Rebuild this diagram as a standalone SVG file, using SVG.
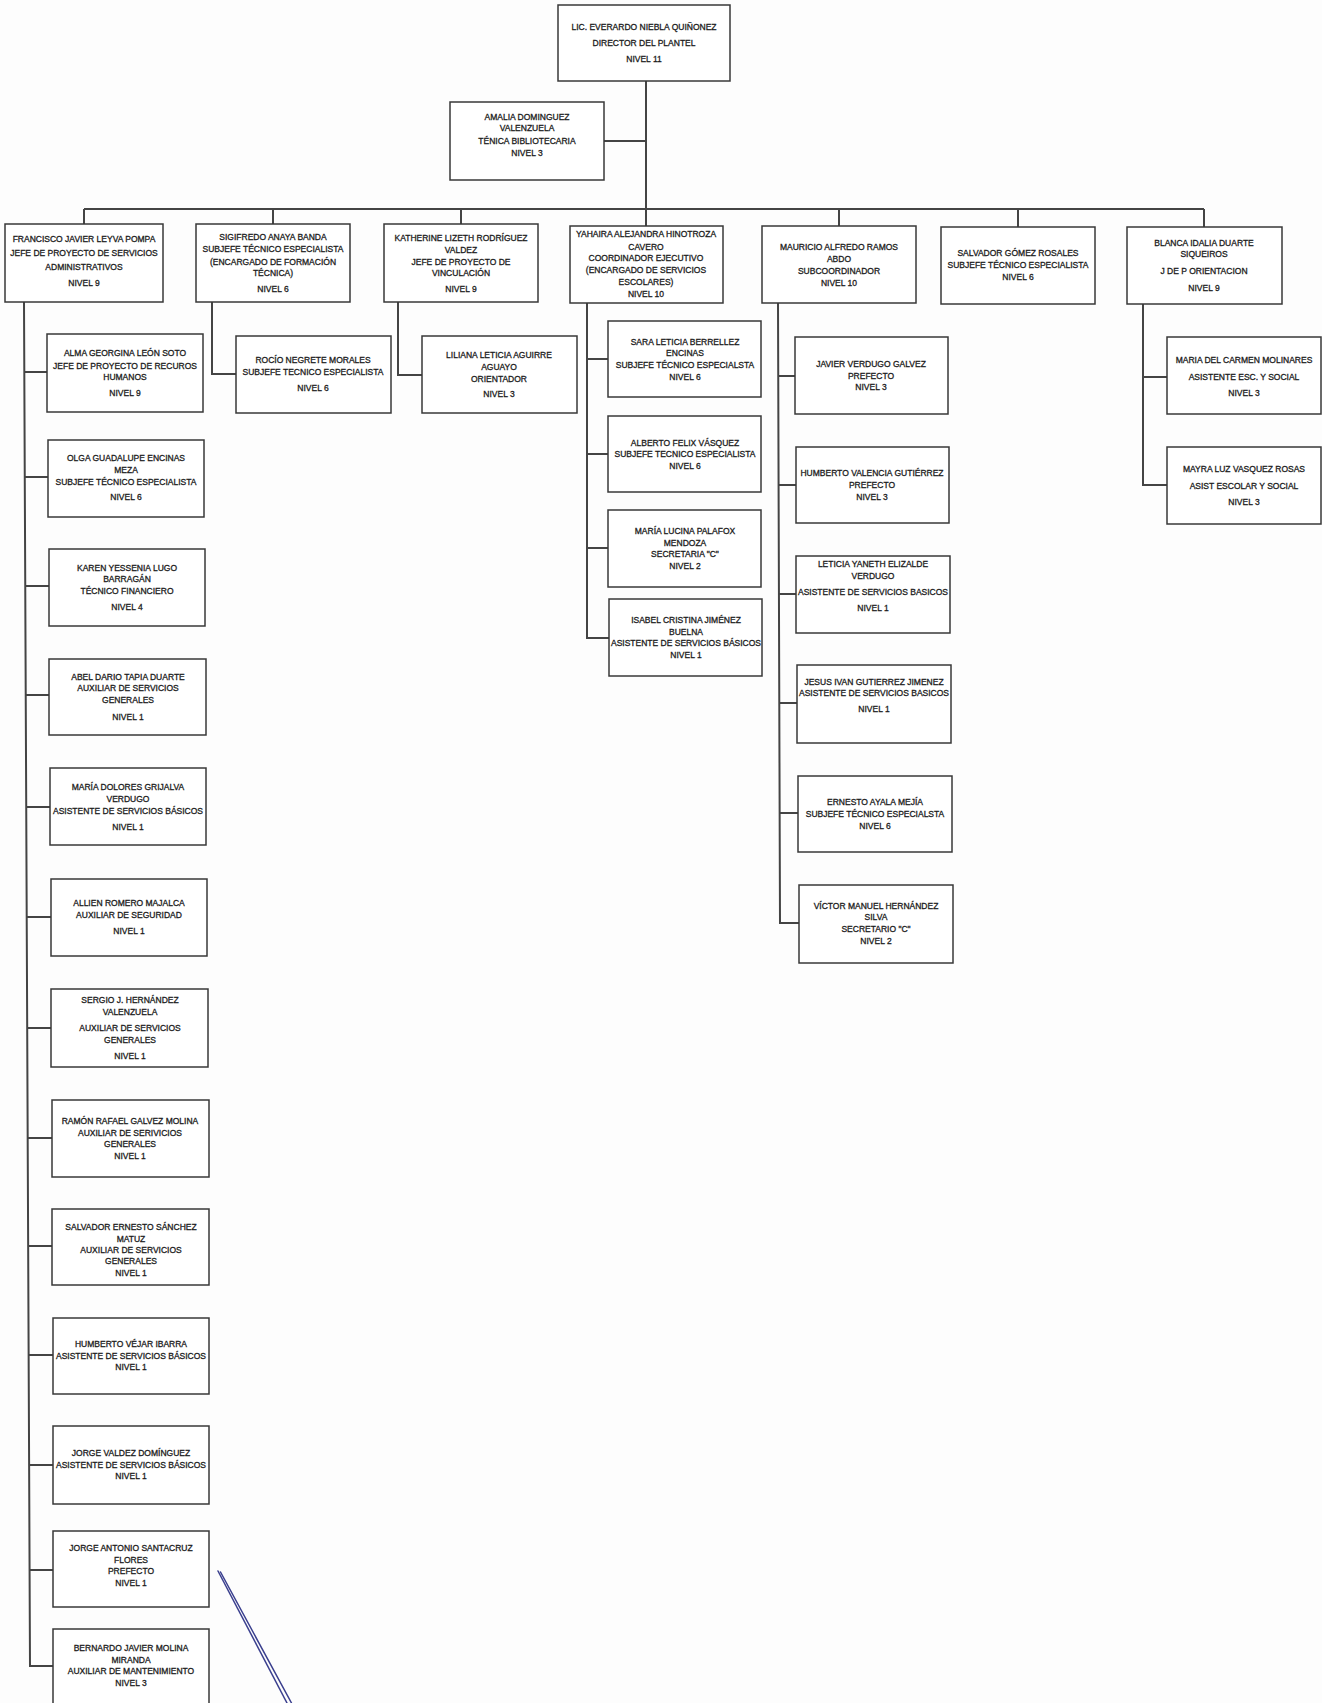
<svg xmlns="http://www.w3.org/2000/svg" width="1322" height="1703" viewBox="0 0 1322 1703">
<style>
.box{fill:#ffffff;stroke:#383838;stroke-width:1.5}
.t{font-family:"Liberation Sans",Arial,sans-serif;font-size:8.5px;fill:#1c1c1c;stroke:#1c1c1c;stroke-width:0.3;text-anchor:middle}
.c{fill:none;stroke:#444444;stroke-width:2}
.pen{fill:none;stroke:#3a3f8e;stroke-width:1.5;stroke-linecap:round}
</style>
<rect x="0" y="0" width="1322" height="1703" fill="#fdfdfd"/>
<g id="connectors">
<path class="c" d="M646,81 V226 M604,141 H646 M84,209 H1204 M84,209 V224 M273,209 V224 M461,209 V224 M839,209 V226 M1018,209 V227 M1204,209 V227"/>
<path class="c" d="M24,302 L30,1666 H53 M24.3,372 H47 M24.8,477 H48 M25.2,586 H49 M25.7,695 H49 M26.2,807 H50 M26.7,917 H51 M27.2,1028 H51 M27.7,1138 H52 M28.2,1246 H52 M28.6,1355 H53 M29.1,1465 H53 M29.6,1570 H53"/>
<path class="c" d="M212,302 V374 H236 M398,302 V375 H422"/>
<path class="c" d="M587,303 V638 H609 M587,359 H608 M587,454 H608 M587,548 H608"/>
<path class="c" d="M778,303 L780,923 H799 M778.2,376 H795 M778.6,485 H796 M778.9,594 H796 M779.3,703 H797 M779.6,813 H798"/>
<path class="c" d="M1143,304 V485 H1167 M1143,377 H1167"/>
</g>
<g id="director"><rect class="box" x="558" y="5" width="172" height="76"/><text class="t"><tspan x="644" y="30">LIC. EVERARDO NIEBLA QUIÑONEZ</tspan><tspan x="644" y="46">DIRECTOR DEL PLANTEL</tspan><tspan x="644" y="62">NIVEL 11</tspan></text></g>
<g id="amalia"><rect class="box" x="450" y="102" width="154" height="78"/><text class="t"><tspan x="527" y="120">AMALIA DOMINGUEZ</tspan><tspan x="527" y="131">VALENZUELA</tspan><tspan x="527" y="144">TÉNICA BIBLIOTECARIA</tspan><tspan x="527" y="156">NIVEL 3</tspan></text></g>
<g id="francisco"><rect class="box" x="5" y="224" width="158" height="78"/><text class="t"><tspan x="84" y="242">FRANCISCO JAVIER LEYVA POMPA</tspan><tspan x="84" y="256">JEFE DE PROYECTO DE SERVICIOS</tspan><tspan x="84" y="270">ADMINISTRATIVOS</tspan><tspan x="84" y="286">NIVEL 9</tspan></text></g>
<g id="sigifredo"><rect class="box" x="196" y="224" width="154" height="78"/><text class="t"><tspan x="273" y="240">SIGIFREDO ANAYA BANDA</tspan><tspan x="273" y="252">SUBJEFE TÉCNICO ESPECIALISTA</tspan><tspan x="273" y="265">(ENCARGADO DE FORMACIÓN</tspan><tspan x="273" y="276">TÉCNICA)</tspan><tspan x="273" y="292">NIVEL 6</tspan></text></g>
<g id="katherine"><rect class="box" x="384" y="224" width="154" height="78"/><text class="t"><tspan x="461" y="241">KATHERINE LIZETH RODRÍGUEZ</tspan><tspan x="461" y="253">VALDEZ</tspan><tspan x="461" y="265">JEFE DE PROYECTO DE</tspan><tspan x="461" y="276">VINCULACIÓN</tspan><tspan x="461" y="292">NIVEL 9</tspan></text></g>
<g id="yahaira"><rect class="box" x="570" y="226" width="153" height="77"/><text class="t"><tspan x="646" y="237">YAHAIRA  ALEJANDRA HINOTROZA</tspan><tspan x="646" y="250">CAVERO</tspan><tspan x="646" y="261">COORDINADOR EJECUTIVO</tspan><tspan x="646" y="273">(ENCARGADO DE SERVICIOS</tspan><tspan x="646" y="285">ESCOLARES)</tspan><tspan x="646" y="297">NIVEL 10</tspan></text></g>
<g id="mauricio"><rect class="box" x="762" y="226" width="154" height="77"/><text class="t"><tspan x="839" y="250">MAURICIO ALFREDO RAMOS</tspan><tspan x="839" y="262">ABDO</tspan><tspan x="839" y="274">SUBCOORDINADOR</tspan><tspan x="839" y="286">NIVEL 10</tspan></text></g>
<g id="salvador-gomez"><rect class="box" x="941" y="227" width="154" height="77"/><text class="t"><tspan x="1018" y="256">SALVADOR GÓMEZ ROSALES</tspan><tspan x="1018" y="268">SUBJEFE TÉCNICO ESPECIALISTA</tspan><tspan x="1018" y="280">NIVEL 6</tspan></text></g>
<g id="blanca"><rect class="box" x="1127" y="227" width="155" height="77"/><text class="t"><tspan x="1204" y="246">BLANCA IDALIA DUARTE</tspan><tspan x="1204" y="257">SIQUEIROS</tspan><tspan x="1204" y="274">J DE P ORIENTACION</tspan><tspan x="1204" y="291">NIVEL 9</tspan></text></g>
<g id="rocio"><rect class="box" x="236" y="336" width="155" height="77"/><text class="t"><tspan x="313" y="363">ROCÍO NEGRETE MORALES</tspan><tspan x="313" y="375">SUBJEFE TECNICO ESPECIALISTA</tspan><tspan x="313" y="391">NIVEL 6</tspan></text></g>
<g id="liliana"><rect class="box" x="422" y="336" width="155" height="77"/><text class="t"><tspan x="499" y="358">LILIANA LETICIA AGUIRRE</tspan><tspan x="499" y="370">AGUAYO</tspan><tspan x="499" y="382">ORIENTADOR</tspan><tspan x="499" y="397">NIVEL 3</tspan></text></g>
<g id="alma"><rect class="box" x="47" y="334" width="156" height="78"/><text class="t"><tspan x="125" y="356">ALMA GEORGINA LEÓN SOTO</tspan><tspan x="125" y="369">JEFE DE PROYECTO DE RECUROS</tspan><tspan x="125" y="380">HUMANOS</tspan><tspan x="125" y="396">NIVEL 9</tspan></text></g>
<g id="olga"><rect class="box" x="48" y="440" width="156" height="77"/><text class="t"><tspan x="126" y="461">OLGA GUADALUPE ENCINAS</tspan><tspan x="126" y="473">MEZA</tspan><tspan x="126" y="485">SUBJEFE TÉCNICO ESPECIALISTA</tspan><tspan x="126" y="500">NIVEL 6</tspan></text></g>
<g id="karen"><rect class="box" x="49" y="549" width="156" height="77"/><text class="t"><tspan x="127" y="571">KAREN YESSENIA LUGO</tspan><tspan x="127" y="582">BARRAGÁN</tspan><tspan x="127" y="594">TÉCNICO FINANCIERO</tspan><tspan x="127" y="610">NIVEL 4</tspan></text></g>
<g id="abel"><rect class="box" x="49" y="659" width="157" height="76"/><text class="t"><tspan x="128" y="680">ABEL DARIO TAPIA DUARTE</tspan><tspan x="128" y="691">AUXILIAR DE SERVICIOS</tspan><tspan x="128" y="703">GENERALES</tspan><tspan x="128" y="720">NIVEL 1</tspan></text></g>
<g id="maria-dolores"><rect class="box" x="50" y="768" width="156" height="77"/><text class="t"><tspan x="128" y="790">MARÍA DOLORES GRIJALVA</tspan><tspan x="128" y="802">VERDUGO</tspan><tspan x="128" y="814">ASISTENTE DE SERVICIOS BÁSICOS</tspan><tspan x="128" y="830">NIVEL 1</tspan></text></g>
<g id="allien"><rect class="box" x="51" y="879" width="156" height="77"/><text class="t"><tspan x="129" y="906">ALLIEN ROMERO MAJALCA</tspan><tspan x="129" y="918">AUXILIAR DE SEGURIDAD</tspan><tspan x="129" y="934">NIVEL 1</tspan></text></g>
<g id="sergio"><rect class="box" x="51" y="989" width="157" height="78"/><text class="t"><tspan x="130" y="1003">SERGIO J. HERNÁNDEZ</tspan><tspan x="130" y="1015">VALENZUELA</tspan><tspan x="130" y="1031">AUXILIAR DE SERVICIOS</tspan><tspan x="130" y="1043">GENERALES</tspan><tspan x="130" y="1059">NIVEL 1</tspan></text></g>
<g id="ramon"><rect class="box" x="52" y="1100" width="157" height="77"/><text class="t"><tspan x="130" y="1124">RAMÓN RAFAEL GALVEZ MOLINA</tspan><tspan x="130" y="1136">AUXILIAR DE SERIVICIOS</tspan><tspan x="130" y="1147">GENERALES</tspan><tspan x="130" y="1159">NIVEL 1</tspan></text></g>
<g id="salvador-sanchez"><rect class="box" x="52" y="1209" width="157" height="76"/><text class="t"><tspan x="131" y="1230">SALVADOR ERNESTO SÁNCHEZ</tspan><tspan x="131" y="1242">MATUZ</tspan><tspan x="131" y="1253">AUXILIAR DE SERVICIOS</tspan><tspan x="131" y="1264">GENERALES</tspan><tspan x="131" y="1276">NIVEL 1</tspan></text></g>
<g id="humberto-vejar"><rect class="box" x="53" y="1318" width="156" height="76"/><text class="t"><tspan x="131" y="1347">HUMBERTO VÉJAR IBARRA</tspan><tspan x="131" y="1359">ASISTENTE DE SERVICIOS BÁSICOS</tspan><tspan x="131" y="1370">NIVEL 1</tspan></text></g>
<g id="jorge-valdez"><rect class="box" x="53" y="1426" width="156" height="78"/><text class="t"><tspan x="131" y="1456">JORGE VALDEZ DOMÍNGUEZ</tspan><tspan x="131" y="1468">ASISTENTE DE SERVICIOS BÁSICOS</tspan><tspan x="131" y="1479">NIVEL 1</tspan></text></g>
<g id="jorge-antonio"><rect class="box" x="53" y="1531" width="156" height="76"/><text class="t"><tspan x="131" y="1551">JORGE ANTONIO SANTACRUZ</tspan><tspan x="131" y="1563">FLORES</tspan><tspan x="131" y="1574">PREFECTO</tspan><tspan x="131" y="1586">NIVEL 1</tspan></text></g>
<g id="bernardo"><rect class="box" x="53" y="1629" width="156" height="78"/><text class="t"><tspan x="131" y="1651">BERNARDO JAVIER MOLINA</tspan><tspan x="131" y="1663">MIRANDA</tspan><tspan x="131" y="1674">AUXILIAR DE MANTENIMIENTO</tspan><tspan x="131" y="1686">NIVEL 3</tspan></text></g>
<g id="sara"><rect class="box" x="608" y="321" width="153" height="76"/><text class="t"><tspan x="685" y="345">SARA LETICIA BERRELLEZ</tspan><tspan x="685" y="356">ENCINAS</tspan><tspan x="685" y="368">SUBJEFE TÉCNICO ESPECIALSTA</tspan><tspan x="685" y="380">NIVEL 6</tspan></text></g>
<g id="alberto"><rect class="box" x="608" y="416" width="153" height="76"/><text class="t"><tspan x="685" y="446">ALBERTO FELIX VÁSQUEZ</tspan><tspan x="685" y="457">SUBJEFE TECNICO ESPECIALISTA</tspan><tspan x="685" y="469">NIVEL 6</tspan></text></g>
<g id="maria-lucina"><rect class="box" x="608" y="510" width="153" height="77"/><text class="t"><tspan x="685" y="534">MARÍA LUCINA PALAFOX</tspan><tspan x="685" y="546">MENDOZA</tspan><tspan x="685" y="557">SECRETARIA "C"</tspan><tspan x="685" y="569">NIVEL 2</tspan></text></g>
<g id="isabel"><rect class="box" x="609" y="599" width="153" height="77"/><text class="t"><tspan x="686" y="623">ISABEL CRISTINA JIMÉNEZ</tspan><tspan x="686" y="635">BUELNA</tspan><tspan x="686" y="646">ASISTENTE DE SERVICIOS BÁSICOS</tspan><tspan x="686" y="658">NIVEL 1</tspan></text></g>
<g id="javier"><rect class="box" x="795" y="337" width="153" height="77"/><text class="t"><tspan x="871" y="367">JAVIER VERDUGO  GALVEZ</tspan><tspan x="871" y="379">PREFECTO</tspan><tspan x="871" y="390">NIVEL 3</tspan></text></g>
<g id="humberto-valencia"><rect class="box" x="796" y="447" width="153" height="76"/><text class="t"><tspan x="872" y="476">HUMBERTO VALENCIA GUTIÉRREZ</tspan><tspan x="872" y="488">PREFECTO</tspan><tspan x="872" y="500">NIVEL 3</tspan></text></g>
<g id="leticia"><rect class="box" x="796" y="556" width="154" height="77"/><text class="t"><tspan x="873" y="567">LETICIA YANETH ELIZALDE</tspan><tspan x="873" y="579">VERDUGO</tspan><tspan x="873" y="595">ASISTENTE DE SERVICIOS BASICOS</tspan><tspan x="873" y="611">NIVEL 1</tspan></text></g>
<g id="jesus"><rect class="box" x="797" y="665" width="154" height="78"/><text class="t"><tspan x="874" y="685">JESUS IVAN GUTIERREZ JIMENEZ</tspan><tspan x="874" y="696">ASISTENTE DE SERVICIOS BASICOS</tspan><tspan x="874" y="712">NIVEL 1</tspan></text></g>
<g id="ernesto"><rect class="box" x="798" y="776" width="154" height="76"/><text class="t"><tspan x="875" y="805">ERNESTO AYALA MEJÍA</tspan><tspan x="875" y="817">SUBJEFE TÉCNICO ESPECIALSTA</tspan><tspan x="875" y="829">NIVEL 6</tspan></text></g>
<g id="victor"><rect class="box" x="799" y="885" width="154" height="78"/><text class="t"><tspan x="876" y="909">VÍCTOR MANUEL HERNÁNDEZ</tspan><tspan x="876" y="920">SILVA</tspan><tspan x="876" y="932">SECRETARIO "C"</tspan><tspan x="876" y="944">NIVEL 2</tspan></text></g>
<g id="maria-carmen"><rect class="box" x="1167" y="337" width="154" height="77"/><text class="t"><tspan x="1244" y="363">MARIA DEL CARMEN MOLINARES</tspan><tspan x="1244" y="380">ASISTENTE ESC. Y SOCIAL</tspan><tspan x="1244" y="396">NIVEL 3</tspan></text></g>
<g id="mayra"><rect class="box" x="1167" y="447" width="154" height="77"/><text class="t"><tspan x="1244" y="472">MAYRA LUZ  VASQUEZ ROSAS</tspan><tspan x="1244" y="489">ASIST ESCOLAR  Y SOCIAL</tspan><tspan x="1244" y="505">NIVEL 3</tspan></text></g>
<g id="pen-stroke">
<path class="pen" d="M218,1571 L287,1703"/>
<path class="pen" d="M220.5,1572 L291.5,1703"/>
</g>
</svg>
